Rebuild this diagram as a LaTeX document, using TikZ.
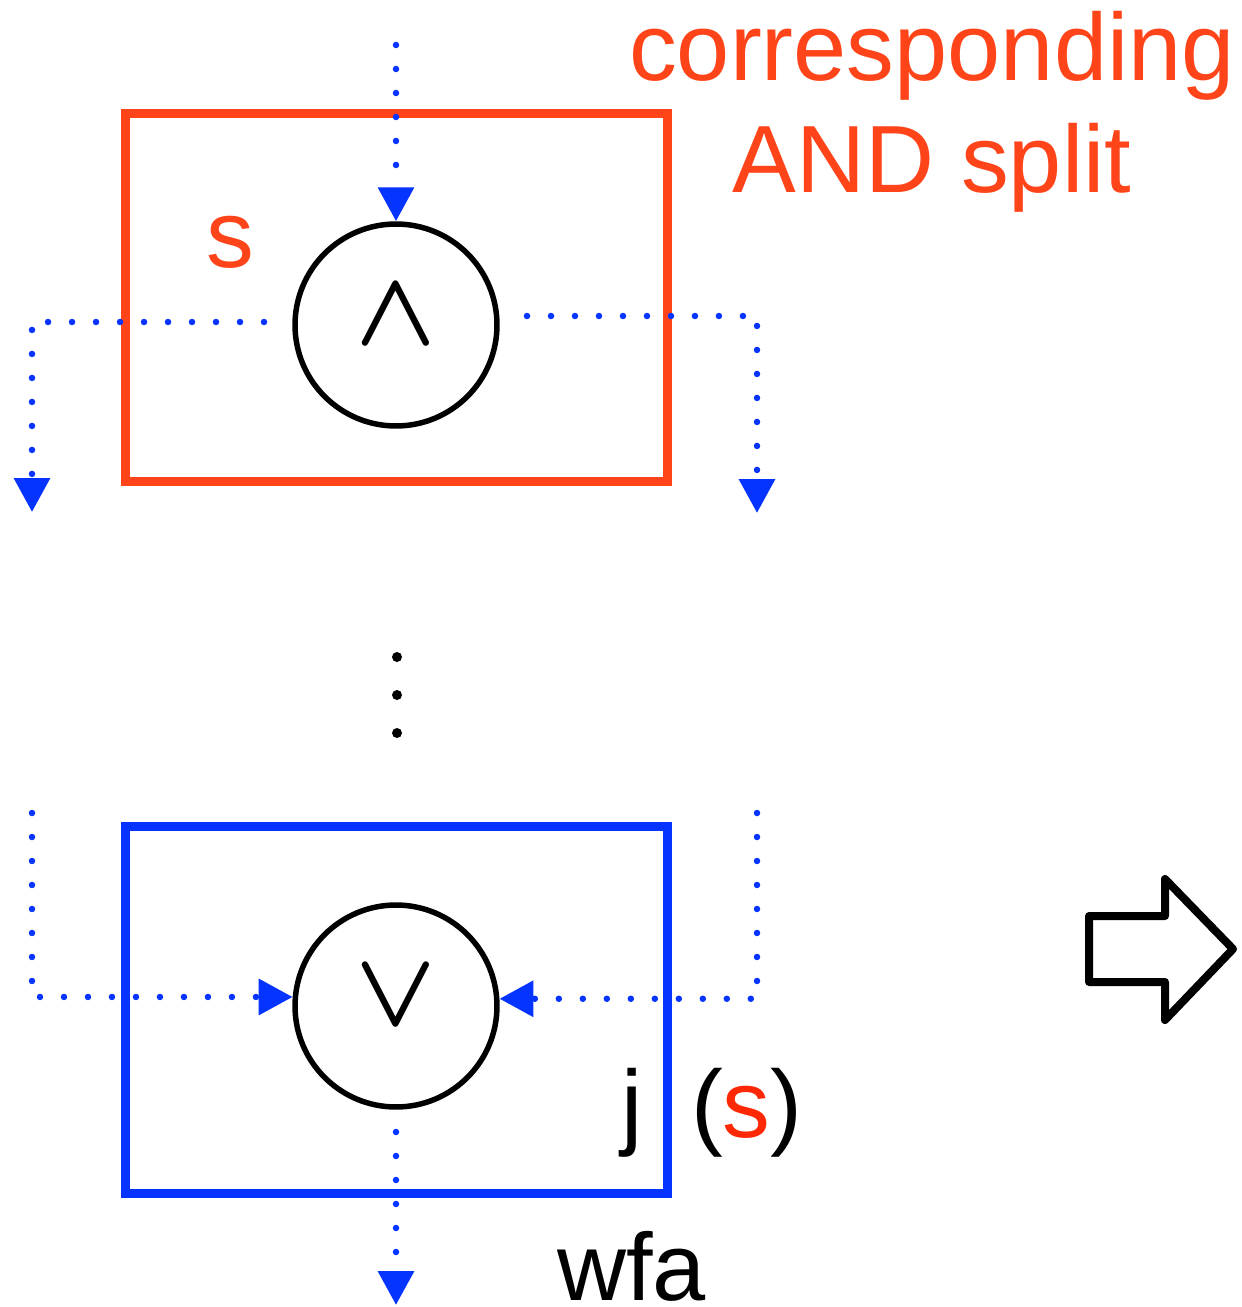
\RequirePackage{fix-cm}
\documentclass[tikz,border=0pt]{standalone}
\usepackage{fontspec}
\setmainfont{Liberation Sans}
\usetikzlibrary{arrows.meta}
\definecolor{sred}{RGB}{255,68,26}
\definecolor{sred2}{RGB}{255,40,5}
\definecolor{sblue}{RGB}{5,51,255}
\begin{document}
\begin{tikzpicture}[x=0.02cm,y=-0.02cm,
  lbl/.style={font=\fontsize{54.4pt}{60pt}\selectfont, inner sep=0pt, outer sep=0pt},
  gate/.style={circle, draw, line width=0.11cm, minimum size=4.04cm, inner sep=0pt, font=\fontsize{60pt}{60pt}\selectfont\boldmath},
  frame/.style={rectangle, draw, line width=0.18cm, minimum width=10.86cm, inner sep=0pt},
  flow/.style={sblue, line width=0.13cm, line cap=round, dash pattern=on 0pt off 0.48cm, -{Triangle[length=0.68cm,width=0.7cm]}},
  bigarrow/.style={draw=black, line width=0.16cm, line join=round},
]
\useasboundingbox (0,0) rectangle (1241,1307);

% frames
\node[frame, draw=sred, minimum height=7.36cm] (andbox) at (396.5,297.5) {};
\node[frame, draw=sblue, minimum height=7.33cm] (orbox) at (396.5,1010) {};

% gates
\node[gate] (andc) at (396,325) {\raisebox{5.4pt}[\height][\depth]{$\wedge$}};
\node[gate] (orc) at (396,1006) {\raisebox{5.4pt}[\height][\depth]{$\vee$}};

% labels
\node[lbl, text=sred, anchor=base west] (slbl) at (206,268) {s};
\node[lbl, text=sred, anchor=base] (corr) at (932,81) {corresponding};
\node[lbl, text=sred, anchor=base] (andsplit) at (932,193) {AND split};
\node[lbl, anchor=base west] (jlbl) at (621,1137) {j\hspace{27.8pt}(\textcolor{sred2}{s})};
\node[lbl, anchor=base west] (wfa) at (557,1300) {wfa};

% flows (top)
\coordinate (inTop) at (396,45);
\draw[flow] (inTop) -- (andc.north);
\coordinate (lStart) at (264,322);
\coordinate (lEnd) at (32,512);
\draw[flow] (lStart) -| (lEnd);
\coordinate (rStart) at (527,316);
\coordinate (rEnd) at (757,513);
\draw[flow] (rStart) -| (rEnd);

% flows (bottom)
\coordinate (blStart) at (32,813);
\draw[flow] (blStart) |- (orc.175);
\coordinate (brStart) at (757,813);
\draw[flow] (brStart) |- (orc.4);
\coordinate (oStart) at (396,1132);
\coordinate (oEnd) at (396,1305);
\draw[flow] (oStart) -- (oEnd);

% vertical ellipsis
\fill (397,657) circle (0.1cm);
\fill (397,695) circle (0.1cm);
\fill (397,733) circle (0.1cm);

% block arrow
\draw[bigarrow] (1089,916) -- (1165,916) -- (1165,879) -- (1233,949) -- (1165,1020) -- (1165,982) -- (1089,982) -- cycle;
\end{tikzpicture}
\end{document}
